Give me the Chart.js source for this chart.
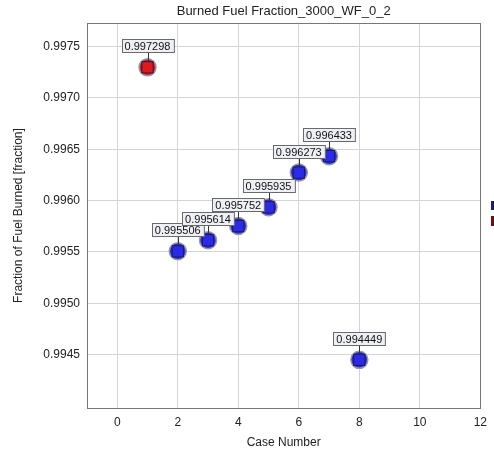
<!DOCTYPE html>
<html>
<head>
<meta charset="utf-8">
<script src="https://cdn.jsdelivr.net/npm/chart.js@4/dist/chart.umd.min.js"></script>
<style>
  html, body { margin: 0; padding: 0; background: #fff; }
  #wrap { width: 494px; height: 461px; }
</style>
</head>
<body>
<div id="wrap"><canvas id="fuelChart" width="494" height="461"></canvas></div>
<script>
// Case results
const caseNumbers = [1, 2, 3, 4, 5, 6, 7, 8];
const burnedFraction = [0.997298, 0.995506, 0.995614, 0.995752, 0.995935, 0.996273, 0.996433, 0.994449];
const pointColors = ['#e01a1a', '#2b2be6', '#2b2be6', '#2b2be6', '#2b2be6', '#2b2be6', '#2b2be6', '#2b2be6'];

// Axis ticks
const xTicks = [0, 2, 4, 6, 8, 10, 12];
const yTicks = [0.9945, 0.9950, 0.9955, 0.9960, 0.9965, 0.9970, 0.9975];

const FONT = '"Liberation Sans", Arial, sans-serif';

const points = caseNumbers.map((c, i) => ({ x: c, y: burnedFraction[i] }));

// Title, value boxes and the edge of the legend
const annotate = {
  id: 'annotate',
  afterDatasetsDraw(chart) {
    const ctx = chart.ctx;
    const xs = chart.scales.x, ys = chart.scales.y;
    ctx.save();
    ctx.font = '11px ' + FONT;
    ctx.textAlign = 'center';
    ctx.textBaseline = 'middle';
    points.forEach(p => {
      const px = xs.getPixelForValue(p.x);
      const py = ys.getPixelForValue(p.y);
      const txt = p.y.toFixed(6);
      const w = ctx.measureText(txt).width + 6;
      const h = 13;
      const bx = Math.round(px - w / 2) + 0.5;
      const by = Math.round(py - 15 - h) + 0.5;
      ctx.strokeStyle = '#333';
      ctx.lineWidth = 1;
      ctx.beginPath();
      ctx.moveTo(Math.round(px) + 0.5, by + h);
      ctx.lineTo(Math.round(px) + 0.5, py - 6);
      ctx.stroke();
      ctx.fillStyle = '#eef0f6';
      ctx.fillRect(bx, by, w, h);
      ctx.strokeStyle = '#6a6a6a';
      ctx.strokeRect(bx, by, w, h);
      ctx.fillStyle = '#111';
      ctx.fillText(txt, px, by + h / 2 + 0.5);
    });
    ctx.restore();
  },
  afterDraw(chart) {
    const ctx = chart.ctx;
    const area = chart.chartArea;
    ctx.save();
    ctx.font = '13px ' + FONT;
    ctx.fillStyle = '#222';
    ctx.textAlign = 'center';
    ctx.textBaseline = 'middle';
    ctx.fillText('Burned Fuel Fraction_3000_WF_0_2', (area.left + area.right) / 2, 11);
    ctx.fillStyle = '#1c1c70';
    ctx.fillRect(491, 201, 4, 9);
    ctx.fillStyle = '#6a1010';
    ctx.fillRect(491, 216, 4, 10);
    ctx.restore();
  }
};

new Chart(document.getElementById('fuelChart'), {
  type: 'scatter',
  data: {
    datasets: [
      {
        data: points,
        pointStyle: 'rect',
        pointRadius: 8,
        pointHoverRadius: 8,
        backgroundColor: pointColors,
        borderColor: '#1a1a60',
        borderWidth: 1,
        order: 1
      },
      {
        data: points,
        pointStyle: 'circle',
        pointRadius: 8.5,
        pointHoverRadius: 8.5,
        backgroundColor: pointColors,
        borderColor: '#9a9a9a',
        borderWidth: 1.5,
        order: 2
      }
    ]
  },
  options: {
    responsive: false,
    animation: false,
    layout: { padding: { top: 23, right: 9, left: 0, bottom: 0 } },
    plugins: {
      legend: { display: false },
      title: { display: false },
      tooltip: { enabled: false }
    },
    scales: {
      x: {
        type: 'linear',
        min: -1,
        max: 12,
        afterBuildTicks: axis => { axis.ticks = xTicks.map(v => ({ value: v })); },
        afterFit: axis => { axis.height = 53; },
        grid: { color: '#d4d4d4', drawTicks: false, lineWidth: 1 },
        border: { color: '#777', width: 1 },
        ticks: { color: '#222', font: { family: FONT, size: 12 }, padding: 7 },
        title: { display: true, text: 'Case Number', color: '#222', font: { family: FONT, size: 12 }, padding: { top: 2, bottom: 11 } }
      },
      y: {
        type: 'linear',
        min: 0.99398,
        max: 0.99773,
        afterBuildTicks: axis => { axis.ticks = yTicks.map(v => ({ value: v })); },
        afterFit: axis => { axis.width = 87; },
        grid: { color: '#d4d4d4', drawTicks: false, lineWidth: 1 },
        border: { color: '#777', width: 1 },
        ticks: { color: '#222', font: { family: FONT, size: 12 }, padding: 7, callback: v => v.toFixed(4) },
        title: { display: true, text: 'Fraction of Fuel Burned [fraction]', color: '#222', font: { family: FONT, size: 12 }, padding: { top: 11, bottom: 4 } }
      },
      x2: {
        type: 'linear', position: 'top', display: true,
        min: -1, max: 12,
        grid: { display: false }, ticks: { display: false },
        border: { color: '#777', width: 1 },
        afterFit: axis => { axis.height = 0; }
      },
      y2: {
        type: 'linear', position: 'right', display: true,
        min: 0.99398, max: 0.99773,
        grid: { display: false }, ticks: { display: false },
        border: { color: '#777', width: 1 },
        afterFit: axis => { axis.width = 0; }
      }
    }
  },
  plugins: [annotate]
});
</script>
</body>
</html>
